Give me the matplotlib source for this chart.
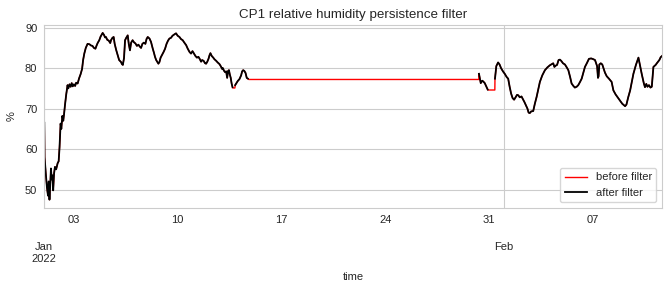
#!/usr/bin/env python3
"""
CP1 relative humidity: raw series vs. persistence-filtered series.
"""

import numpy as np
import pandas as pd
import matplotlib
matplotlib.use("Agg")
import matplotlib.pyplot as plt
import matplotlib.dates as mdates

# time in days since 2022-01-01 00:00, relative humidity (%) before filtering
days = [
    0.00, 0.02, 0.10, 0.18, 0.25, 0.30, 0.35, 0.40, 0.45, 0.50, 0.55, 0.60,
    0.66, 0.72, 0.80, 0.90, 0.97, 1.03, 1.10, 1.15, 1.22, 1.28, 1.33, 1.40,
    1.48, 1.57, 1.62, 1.70, 1.78, 1.85, 1.92, 2.00, 2.08, 2.15, 2.25, 2.35,
    2.45, 2.55, 2.62, 2.70, 2.80, 2.92, 3.05, 3.15, 3.25, 3.35, 3.45, 3.52,
    3.60, 3.71, 3.80, 3.94, 4.03, 4.10, 4.16, 4.25, 4.35, 4.45, 4.50, 4.60,
    4.68, 4.75, 4.85, 4.95, 5.05, 5.18, 5.24, 5.30, 5.38, 5.45, 5.53, 5.63,
    5.70, 5.78, 5.86, 5.96, 6.05, 6.15, 6.25, 6.35, 6.45, 6.53, 6.62, 6.72,
    6.82, 6.90, 6.98, 7.10, 7.20, 7.32, 7.40, 7.47, 7.55, 7.70, 7.77, 7.85,
    7.95, 8.05, 8.15, 8.25, 8.35, 8.44, 8.55, 8.65, 8.80, 8.89, 9.00, 9.12,
    9.22, 9.34, 9.45, 9.57, 9.68, 9.80, 9.90, 10.00, 10.10, 10.20, 10.30, 10.40,
    10.50, 10.58, 10.65, 10.75, 10.85, 10.92, 11.00, 11.08, 11.15, 11.21, 11.30, 11.40,
    11.48, 11.60, 11.70, 11.82, 11.92, 12.00, 12.05, 12.12, 12.20, 12.27, 12.34, 12.40,
    12.46, 12.52, 12.58, 12.64, 12.70, 12.72, 12.86, 12.88, 12.95, 13.05, 13.17, 13.28,
    13.35, 13.42, 13.50, 13.58, 13.66, 13.74, 13.80, 29.32, 29.33, 29.38, 29.45, 29.55,
    29.62, 29.72, 29.82, 29.92, 29.97, 30.40, 30.41, 30.50, 30.62, 30.72, 30.82, 30.95,
    31.07, 31.20, 31.30, 31.40, 31.50, 31.60, 31.70, 31.80, 31.90, 31.98, 32.08, 32.20,
    32.30, 32.40, 32.50, 32.60, 32.68, 32.76, 32.85, 32.99, 33.10, 33.22, 33.33, 33.44,
    33.60, 33.78, 33.95, 34.11, 34.25, 34.34, 34.42, 34.50, 34.60, 34.70, 34.79, 34.88,
    35.00, 35.13, 35.25, 35.36, 35.48, 35.58, 35.70, 35.80, 35.92, 36.03, 36.15, 36.26,
    36.38, 36.48, 36.62, 36.75, 36.90, 37.05, 37.16, 37.30, 37.36, 37.40, 37.45, 37.55,
    37.65, 37.83, 37.95, 38.10, 38.28, 38.40, 38.55, 38.74, 38.90, 39.00, 39.19, 39.28,
    39.40, 39.53, 39.75, 39.92, 40.09, 40.20, 40.31, 40.45, 40.53, 40.62, 40.70, 40.80,
    40.90, 40.99, 41.10, 41.25, 41.35, 41.50, 41.59, 41.68,
]

rh_before = [
    66.5, 58.0, 54.0, 50.5, 48.5, 52.0, 47.5, 51.0, 55.2, 52.5, 53.5, 49.8,
    54.0, 55.6, 55.0, 56.5, 57.0, 60.5, 66.3, 65.0, 68.2, 67.0, 68.5, 71.0,
    73.5, 75.8, 75.0, 76.0, 75.4, 76.3, 75.5, 76.0, 75.6, 76.4, 76.2, 77.5,
    78.5, 79.8, 82.0, 83.6, 85.0, 86.0, 85.9, 85.6, 85.5, 85.0, 84.8, 85.5,
    86.2, 86.9, 87.8, 88.7, 88.2, 87.6, 87.7, 87.0, 86.8, 86.2, 86.9, 87.5,
    87.7, 86.0, 84.5, 83.2, 82.0, 81.5, 81.0, 80.8, 82.5, 86.9, 87.5, 88.1,
    86.0, 84.4, 86.3, 86.9, 86.4, 86.1, 85.5, 85.8, 85.3, 85.0, 86.0, 86.3,
    86.0, 87.2, 87.7, 87.3, 86.5, 84.8, 83.8, 82.8, 82.0, 81.1, 81.5, 82.6,
    83.3, 84.0, 84.8, 86.0, 86.8, 87.3, 87.5, 88.0, 88.4, 88.6, 88.0, 87.7,
    87.2, 86.9, 86.3, 85.7, 84.8, 84.0, 83.6, 84.2, 83.6, 83.0, 82.6, 82.8,
    82.2, 81.6, 82.0, 81.8, 81.2, 81.1, 81.6, 82.3, 83.2, 83.7, 83.0, 82.6,
    82.2, 81.8, 81.4, 81.0, 80.4, 79.8, 80.0, 79.4, 79.0, 79.2, 77.6, 79.3,
    79.5, 78.4, 77.6, 76.2, 75.3, 75.1, 75.1, 75.8, 76.2, 76.8, 77.3, 78.2,
    79.2, 79.5, 79.3, 78.8, 77.6, 77.4, 77.2, 77.2, 78.6, 77.6, 76.3, 76.9,
    76.7, 76.3, 75.5, 74.7, 74.6, 74.6, 77.4, 80.5, 81.4, 80.9, 80.0, 79.2,
    78.6, 77.8, 77.4, 75.4, 73.7, 72.6, 72.2, 72.8, 73.4, 73.3, 72.8, 73.0,
    72.3, 71.6, 70.8, 70.0, 69.0, 68.9, 69.3, 69.4, 71.2, 72.9, 74.8, 76.6,
    78.2, 79.5, 80.2, 80.7, 81.0, 81.2, 80.3, 80.6, 80.8, 82.0, 82.1, 81.8,
    81.2, 80.9, 80.2, 79.5, 77.8, 76.2, 75.6, 75.2, 75.4, 75.8, 76.6, 77.4,
    79.0, 80.3, 81.3, 82.3, 82.4, 82.2, 82.0, 80.5, 77.6, 78.0, 80.9, 81.2,
    80.9, 78.9, 78.0, 77.4, 76.6, 74.5, 73.5, 72.5, 71.7, 71.2, 70.6, 71.0,
    72.8, 74.5, 78.6, 80.8, 82.6, 80.6, 78.6, 76.3, 75.3, 76.1, 75.4, 75.8,
    75.2, 75.4, 80.3, 80.8, 81.3, 82.0, 82.7, 83.0,
]

start_date = "2022-01-01"


def persistence_filter(values):
    """Blank out readings that repeat the previous value (stuck sensor)."""
    values = np.asarray(values, dtype=float)
    same = np.diff(values) == 0
    flag = np.zeros(len(values), dtype=bool)
    flag[1:] |= same
    flag[:-1] |= same
    return np.where(flag, np.nan, values)


def major_label(x, pos):
    d = mdates.num2date(x)
    if pos == 0:
        return d.strftime("\n\n%b\n%Y")
    return d.strftime("\n\n%b")


def main():
    plt.rcParams["font.family"] = ["Liberation Sans", "DejaVu Sans"]
    text_color = "#262626"

    time = pd.Timestamp(start_date) + pd.to_timedelta(days, unit="D")
    rh_after = persistence_filter(rh_before)

    fig = plt.figure(figsize=(6.71, 2.86), dpi=100)
    ax = fig.add_axes([0.066, 0.2727, 0.9206, 0.6413])

    ax.plot(time, rh_before, color="red", linewidth=1.0, label="before filter")
    ax.plot(time, rh_after, color="black", linewidth=1.3, label="after filter")

    ax.set_xlim(time[0], time[-1])

    # date axis like pandas: weekly day numbers, month names below
    ax.xaxis.set_major_locator(mdates.MonthLocator())
    ax.xaxis.set_major_formatter(plt.FuncFormatter(major_label))
    ax.xaxis.set_minor_locator(mdates.WeekdayLocator(byweekday=mdates.MO))
    ax.xaxis.set_minor_formatter(mdates.DateFormatter("%d"))
    ax.set_yticks([50, 60, 70, 80, 90])

    ax.tick_params(axis="both", which="both", length=0, labelsize=8,
                   labelcolor=text_color, pad=5)
    ax.tick_params(axis="x", which="major", pad=8)
    ax.grid(True, which="major", color="#cccccc", linewidth=0.8)
    ax.set_axisbelow(True)
    for spine in ax.spines.values():
        spine.set_color("#cccccc")
        spine.set_linewidth(0.8)

    ax.set_title("CP1 relative humidity persistence filter", fontsize=9.6,
                 color=text_color, pad=5)
    ax.set_xlabel("time", fontsize=8, color=text_color, labelpad=6)
    ax.set_ylabel("%", fontsize=8, color=text_color, labelpad=6)

    leg = ax.legend(loc="lower right", fontsize=8, frameon=True)
    leg.get_frame().set_edgecolor("#cccccc")
    for t in leg.get_texts():
        t.set_color(text_color)

    fig.savefig("out.png", dpi=100)
    plt.close(fig)


if __name__ == "__main__":
    main()
